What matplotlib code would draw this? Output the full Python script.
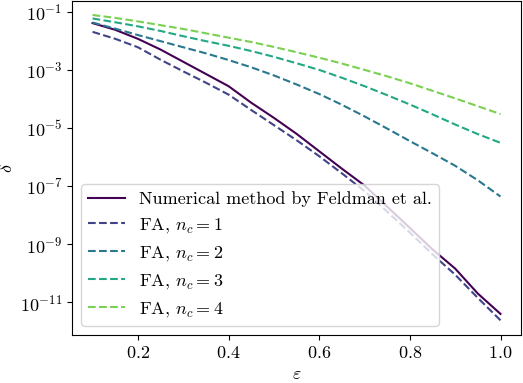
import numpy as np
import matplotlib
matplotlib.use("Agg")
import matplotlib.pyplot as plt
from matplotlib.ticker import NullLocator

plt.rcParams['mathtext.fontset'] = 'cm'
plt.rcParams['font.family'] = 'serif'
plt.rcParams['font.serif'] = ['cmr10', 'DejaVu Serif']
plt.rcParams['axes.formatter.use_mathtext'] = True
plt.rcParams['font.size'] = 13

# epsilon grid
eps = [0.10, 0.15, 0.20, 0.25, 0.30, 0.35, 0.40, 0.45, 0.50, 0.55,
       0.60, 0.65, 0.70, 0.75, 0.80, 0.85, 0.90, 0.95, 1.00]

# log10(delta)
log_numerical = [-1.39, -1.62, -1.93, -2.30, -2.72, -3.14, -3.56, -4.13, -4.65, -5.20,
                 -5.80, -6.40, -6.98, -7.71, -8.44, -9.18, -9.84, -10.70, -11.40]
log_fa1 = [-1.69, -1.93, -2.22, -2.65, -3.05, -3.44, -3.85, -4.38, -4.90, -5.42,
           -5.97, -6.56, -7.17, -7.88, -8.60, -9.35, -10.05, -10.85, -11.62]
log_fa2 = [-1.37, -1.58, -1.80, -2.01, -2.22, -2.43, -2.66, -2.91, -3.19, -3.50,
           -3.83, -4.20, -4.60, -5.02, -5.45, -5.87, -6.30, -6.80, -7.36]
log_fa3 = [-1.23, -1.36, -1.50, -1.66, -1.84, -2.01, -2.17, -2.35, -2.55, -2.77,
           -3.00, -3.27, -3.56, -3.87, -4.19, -4.53, -4.88, -5.21, -5.51]
log_fa4 = [-1.11, -1.21, -1.33, -1.46, -1.59, -1.74, -1.89, -2.04, -2.21, -2.39,
           -2.58, -2.78, -3.00, -3.22, -3.46, -3.72, -3.98, -4.25, -4.52]

fa_series = [log_fa1, log_fa2, log_fa3, log_fa4]
nc_values = [1, 2, 3, 4]

colors = plt.cm.viridis(np.linspace(0, 1, 6))

fig, ax = plt.subplots(figsize=(5.23, 3.83), dpi=100)
fig.subplots_adjust(left=0.138, right=0.996, top=0.998, bottom=0.125)

ax.plot(eps, 10 ** np.array(log_numerical), color=colors[0],
        label='Numerical method by Feldman et al.')
for i, (nc, vals) in enumerate(zip(nc_values, fa_series)):
    ax.plot(eps, 10 ** np.array(vals), '--', color=colors[i + 1],
            label=r'FA, $n_c = %d$' % nc)

ax.set_yscale('log')
ax.set_yticks([10.0 ** p for p in [-1, -3, -5, -7, -9, -11]])
ax.yaxis.set_minor_locator(NullLocator())
ax.set_ylim(10 ** -12.13, 10 ** -0.62)
ax.set_xticks([0.2, 0.4, 0.6, 0.8, 1.0])
ax.set_xlabel(r'$\varepsilon$')
ax.set_ylabel(r'$\delta$')
ax.legend(loc='lower left')

fig.savefig('out.png', dpi=100)
